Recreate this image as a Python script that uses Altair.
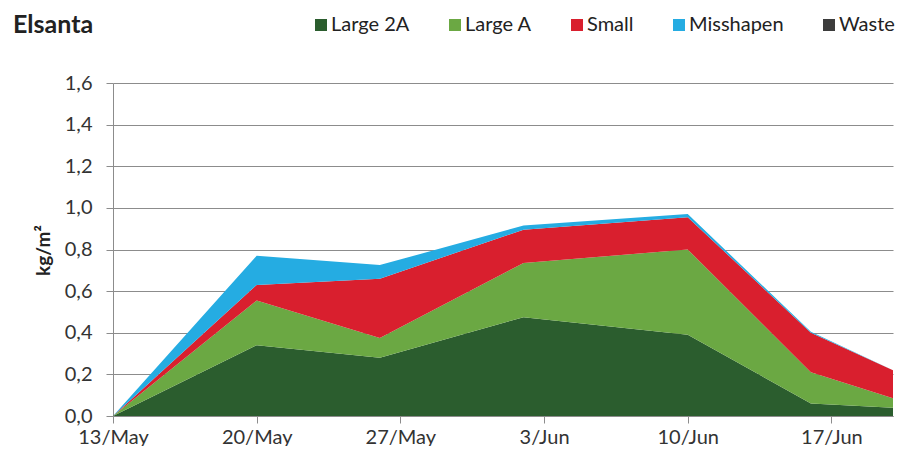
import altair as alt
import pandas as pd

# ---- data ----
dates = ["2013-05-13T00:00:00", "2013-05-20T00:00:00", "2013-05-26T00:00:00",
         "2013-06-02T00:00:00", "2013-06-10T00:00:00", "2013-06-16T00:00:00",
         "2013-06-20T00:00:00"]
large_2a = [0.0, 0.34, 0.28, 0.475, 0.39, 0.06, 0.04]
large_a = [0.0, 0.215, 0.095, 0.26, 0.41, 0.15, 0.045]
small = [0.0, 0.075, 0.285, 0.16, 0.155, 0.19, 0.135]
misshapen = [0.0, 0.14, 0.065, 0.02, 0.015, 0.005, 0.0]
waste = [0.0, 0.0, 0.0, 0.0, 0.0, 0.0, 0.0]

series_names = ["Large 2A", "Large A", "Small", "Misshapen", "Waste"]
series_colors = ["#2b5d2e", "#6ba843", "#d91f2e", "#25ace2", "#3c3c3c"]
x_tick_days = [(5, 13), (5, 20), (5, 27), (6, 3), (6, 10), (6, 17)]
y_ticks = [0.0, 0.2, 0.4, 0.6, 0.8, 1.0, 1.2, 1.4, 1.6]

rows = []
for i, (name, vals) in enumerate(zip(series_names, [large_2a, large_a, small, misshapen, waste])):
    for d, v in zip(dates, vals):
        rows.append({"date": d, "value": v, "series": name, "order": i})
df = pd.DataFrame(rows)

FONT = "Lato"

chart = alt.Chart(df).mark_area(interpolate="linear").encode(
    x=alt.X("date:T",
            scale=alt.Scale(domain=[alt.DateTime(year=2013, month=5, date=13),
                                    alt.DateTime(year=2013, month=6, date=20)]),
            axis=alt.Axis(values=[alt.DateTime(year=2013, month=m, date=d) for m, d in x_tick_days],
                          format="%-d/%b", title=None, grid=False,
                          labelFontSize=20, labelColor="#333333", labelFont=FONT,
                          tickSize=7, labelPadding=4, labelFlush=False,
                          domainColor="#8c8c8c", tickColor="#8c8c8c")),
    y=alt.Y("value:Q", stack="zero",
            scale=alt.Scale(domain=[0, 1.6], nice=False),
            axis=alt.Axis(values=y_ticks,
                          labelExpr="replace(format(datum.value, '.1f'), '.', ',')",
                          title="kg/m²", titleFontSize=19, titleFontWeight="bold",
                          titleFont=FONT, titleColor="#222222",
                          titleX=-60, titleY=167, titleAngle=-90,
                          labelFontSize=20, labelColor="#333333", labelFont=FONT,
                          tickSize=7, labelPadding=14,
                          gridColor="#8c8c8c", domainColor="#8c8c8c", tickColor="#8c8c8c")),
    color=alt.Color("series:N",
                    scale=alt.Scale(domain=series_names, range=series_colors),
                    legend=alt.Legend(title=None, orient="none", direction="horizontal",
                                      legendX=198, legendY=-68,
                                      symbolType="square", symbolSize=144,
                                      symbolStrokeWidth=0, labelFontSize=20,
                                      labelFont=FONT, labelColor="#222222",
                                      labelOffset=0, columnPadding=35)),
    order=alt.Order("order:Q", sort="ascending"),
).properties(
    width=780, height=333,
    title=alt.TitleParams("Elsanta", anchor="start", frame="group", dx=-100,
                          offset=0, dy=23, fontSize=25, fontWeight="bold", font=FONT,
                          color="#222222"),
    autosize=alt.AutoSizeParams(type="none"),
    padding={"left": 105, "top": 75, "right": 6, "bottom": 30},
).configure_view(stroke=None)

chart.save("out.html", embed_options={"renderer": "svg", "actions": False})
